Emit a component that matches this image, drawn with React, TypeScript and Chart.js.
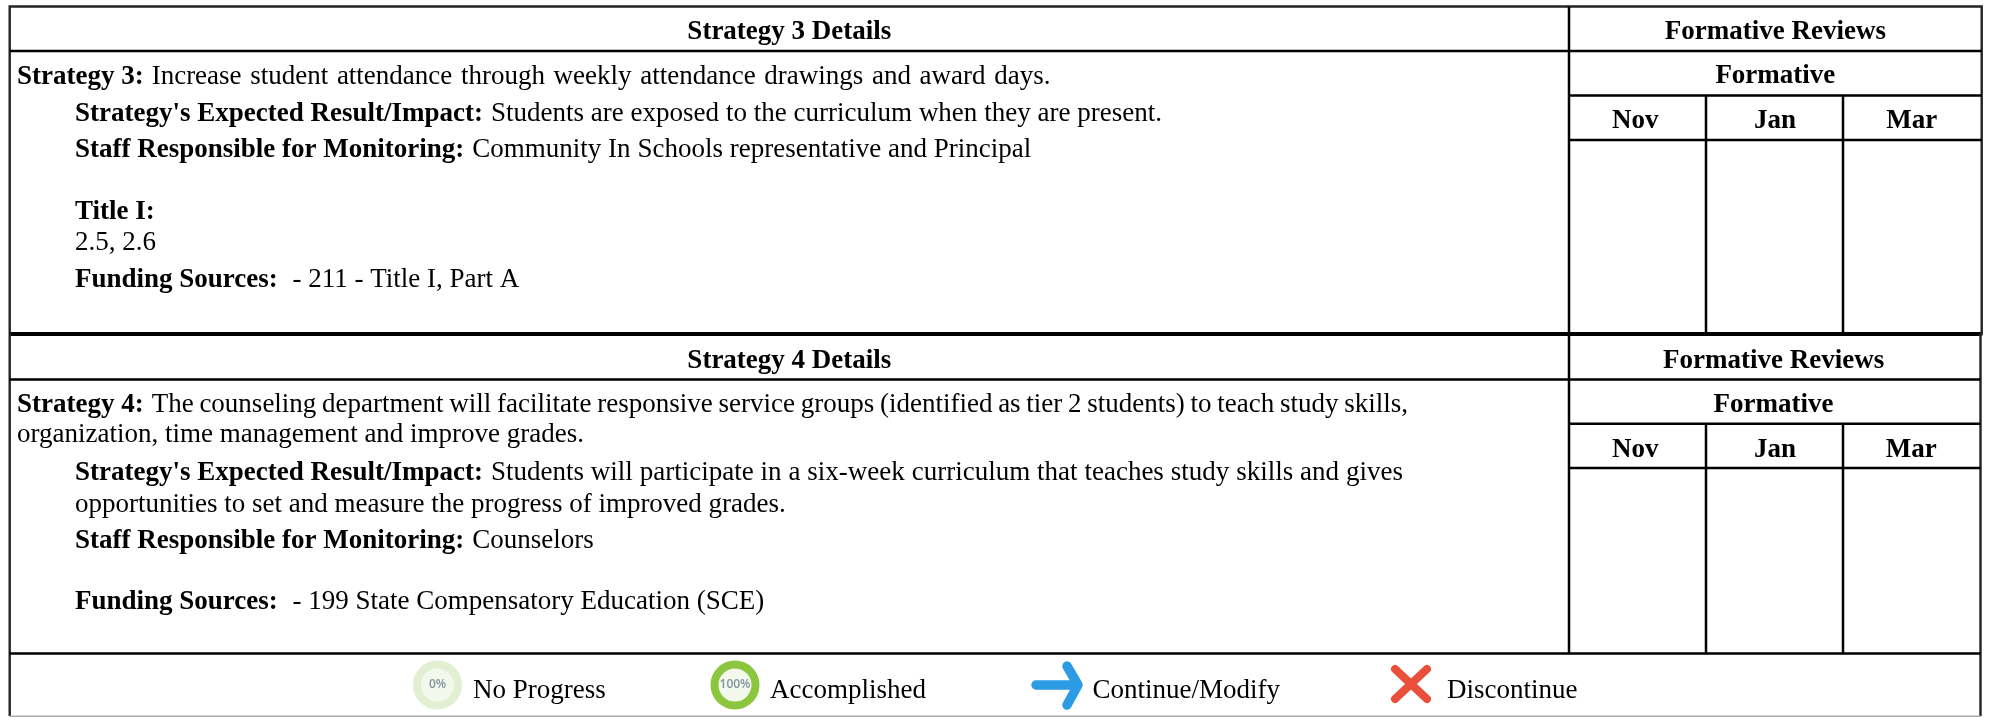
import React, { useEffect, useRef } from "react";
import { Chart, registerables } from "chart.js";

Chart.register(...registerables);

// ---- content ----
const months = ["Nov", "Jan", "Mar"];
const reviewHeader = "Formative Reviews";
const reviewSubHeader = "Formative";
const strategy3Header = "Strategy 3 Details";
const strategy4Header = "Strategy 4 Details";
const strategy3Lines: [string, string][] = [
  ["Strategy 3:", "Increase student attendance through weekly attendance drawings and award days."],
  ["Strategy's Expected Result/Impact:", "Students are exposed to the curriculum when they are present."],
  ["Staff Responsible for Monitoring:", "Community In Schools representative and Principal"],
  ["Title I:", ""],
  ["", "2.5, 2.6"],
  ["Funding Sources:", " - 211 - Title I, Part A"],
];
const strategy4Lines: [string, string][] = [
  ["Strategy 4:", "The counseling department will facilitate responsive service groups (identified as tier 2 students) to teach study skills,"],
  ["", "organization, time management and improve grades."],
  ["Strategy's Expected Result/Impact:", "Students will participate in a six-week curriculum that teaches study skills and gives"],
  ["", "opportunities to set and measure the progress of improved grades."],
  ["Staff Responsible for Monitoring:", "Counselors"],
  ["Funding Sources:", " - 199 State Compensatory Education (SCE)"],
];
const legendLabels = ["No Progress", "Accomplished", "Continue/Modify", "Discontinue"];
const ringLabels = ["0%", "100%"];

// ---- layout ----
const W = 1991;
const H = 717;
const leftX = 9.7;
const rightX = [1981.7, 1980.5];
const reviewX = 1569;
const monthX = [1706, 1843];
const rowY = [
  { top: 6.5, head: 51, sub: 95.5, month: 140, bottom: 334 },
  { top: 334, head: 379.5, sub: 423.7, month: 468, bottom: 653.5 },
];
const base3 = [84, 121, 156.5, 218.5, 249.5, 287];
const base4 = [411.5, 441.5, 479.5, 511.5, 547.5, 608.5];
const indent3 = [17, 75, 75, 75, 75, 75];
const indent4 = [17, 17, 75, 75, 75, 75];
const wordGap3 = [1.9, 0.1, 0.1, 0, 0, 0.4];
const wordGap4 = [-1, 0, 0.15, 0, 0.1, 0.2];
const headBase = [[38.5, 83, 127.5], [368, 411.5, 456.5]];
const monthNudge = [-2.2, 0.6, -0.5];
const reviewNudge = [0, -1.2];
const legendTextX = [473, 770, 1092.5, 1447];
const legendBase = 698;
const ringX = [437.5, 735];
const iconY = 685;

const FONT = '"Liberation Serif"';
const SIZE = 27;

const ruleData = () => {
  const pts: any[] = [];
  const seg = (a: number, b: number, c: number, d: number) => {
    pts.push({ x: a, y: b }, { x: c, y: d }, { x: null, y: null });
  };
  rowY.forEach((r, i) => {
    const R = rightX[i];
    seg(leftX, r.head, R, r.head);
    seg(reviewX, r.sub, R, r.sub);
    seg(reviewX, r.month, R, r.month);
    seg(reviewX, r.top, reviewX, r.bottom);
    monthX.forEach((m) => seg(m, r.sub, m, r.bottom));
  });
  seg(leftX, rowY[1].bottom, rightX[1], rowY[1].bottom);
  return pts;
};

const framePts = () => [
  { x: leftX, y: 716 },
  { x: leftX, y: rowY[0].top },
  { x: rightX[0], y: rowY[0].top },
  { x: rightX[0], y: rowY[1].top },
  { x: rightX[1], y: rowY[1].top },
  { x: rightX[1], y: 716 },
];

const tablePlugin = {
  id: "tableText",
  beforeDraw(chart: any) {
    const { ctx } = chart;
    ctx.save();
    ctx.fillStyle = "#fff";
    ctx.fillRect(0, 0, W, H);
    ctx.restore();
  },
  afterDraw(chart: any) {
    const { ctx, scales } = chart;
    const px = (v: number) => scales.x.getPixelForValue(v);
    const py = (v: number) => scales.y.getPixelForValue(v);
    ctx.save();
    ctx.fillStyle = "#000";
    ctx.textBaseline = "alphabetic";
    const bold = `bold ${SIZE}px ${FONT}`;
    const reg = `${SIZE}px ${FONT}`;
    const center = (t: string, x: number, y: number) => {
      ctx.font = bold;
      ctx.textAlign = "center";
      ctx.fillText(t, px(x), py(y));
    };
    const run = (l: [string, string], x: number, y: number, gap: number) => {
      ctx.textAlign = "left";
      let cx = px(x);
      ctx.wordSpacing = "0px";
      if (l[0]) {
        ctx.font = bold;
        ctx.fillText(l[0], cx, py(y));
        cx += ctx.measureText(l[0] + " ").width + 1.2;
      }
      ctx.font = reg;
      ctx.wordSpacing = `${gap}px`;
      ctx.fillText(l[1], cx, py(y));
      ctx.wordSpacing = "0px";
    };
    [strategy3Header, strategy4Header].forEach((t, i) => {
      const R = rightX[i];
      center(t, (leftX + reviewX) / 2, headBase[i][0]);
      const mid = (reviewX + R) / 2 + reviewNudge[i];
      center(reviewHeader, mid, headBase[i][0]);
      center(reviewSubHeader, mid, headBase[i][1]);
      const cols = [reviewX, ...monthX, R];
      months.forEach((m, j) => center(m, (cols[j] + cols[j + 1]) / 2 + monthNudge[j], headBase[i][2]));
    });
    strategy3Lines.forEach((l, i) => run(l, indent3[i], base3[i], wordGap3[i]));
    strategy4Lines.forEach((l, i) => run(l, indent4[i], base4[i], wordGap4[i]));
    ctx.font = reg;
    ctx.textAlign = "left";
    legendLabels.forEach((t, i) => ctx.fillText(t, px(legendTextX[i]), py(legendBase)));
    ctx.font = '600 12px "Open Sans"';
    ctx.textAlign = "center";
    ctx.textBaseline = "middle";
    ctx.fillStyle = "#84929f";
    ringLabels.forEach((t, i) => ctx.fillText(t, px(ringX[i]), py(iconY)));
    ctx.restore();
  },
};

export default function App() {
  const ref = useRef<HTMLCanvasElement>(null);
  useEffect(() => {
    if (!ref.current) return;
    const chart = new Chart(ref.current, {
      type: "scatter",
      data: {
        datasets: [
          {
            type: "line",
            data: [{ x: leftX, y: 716.3 }, { x: rightX[1], y: 716.3 }],
            borderColor: "#aaa",
            borderWidth: 1.5,
            pointRadius: 0,
          },
          {
            type: "line",
            data: ruleData(),
            borderColor: "#000",
            borderWidth: 2.5,
            pointRadius: 0,
            spanGaps: false,
          },
          {
            type: "line",
            data: framePts(),
            borderColor: "#222",
            borderWidth: 2.4,
            pointRadius: 0,
          },
          {
            type: "line",
            data: [{ x: leftX, y: rowY[0].bottom }, { x: rightX[0], y: rowY[0].bottom }],
            borderColor: "#000",
            borderWidth: 4,
            pointRadius: 0,
          },
          {
            data: [{ x: ringX[0], y: iconY }],
            pointRadius: 20.5,
            pointBorderWidth: 8,
            pointBackgroundColor: "#f2f8ec",
            pointBorderColor: "#e2efd3",
          },
          {
            data: [{ x: ringX[1], y: iconY }],
            pointRadius: 20.5,
            pointBorderWidth: 8,
            pointBackgroundColor: "#f2f8ec",
            pointBorderColor: "#8cc63f",
          },
          {
            type: "line",
            data: [
              { x: 1036, y: iconY }, { x: 1077, y: iconY }, { x: null, y: null },
              { x: 1067, y: 666 }, { x: 1078, y: iconY }, { x: 1067, y: 705 },
            ],
            borderColor: "#2b9be4",
            borderWidth: 9.5,
            borderCapStyle: "round",
            borderJoinStyle: "round",
            pointRadius: 0,
            spanGaps: false,
          },
          {
            type: "line",
            data: [
              { x: 1395, y: 669 }, { x: 1427, y: 699 }, { x: null, y: null },
              { x: 1427, y: 669 }, { x: 1395, y: 699 },
            ],
            borderColor: "#ea4f3c",
            borderWidth: 8,
            borderCapStyle: "round",
            pointRadius: 0,
            spanGaps: false,
          },
        ] as any,
      },
      options: {
        animation: false,
        responsive: false,
        layout: { padding: 0, autoPadding: false },
        scales: {
          x: { type: "linear", min: 0, max: W, display: false },
          y: { type: "linear", min: 0, max: H, reverse: true, display: false },
        },
        plugins: { legend: { display: false }, tooltip: { enabled: false } },
      },
      plugins: [tablePlugin],
    });
    return () => chart.destroy();
  }, []);
  return (
    <canvas
      ref={ref}
      width={W}
      height={H}
      style={{ position: "absolute", left: 0, top: 0, width: W, height: H, display: "block" }}
    />
  );
}
